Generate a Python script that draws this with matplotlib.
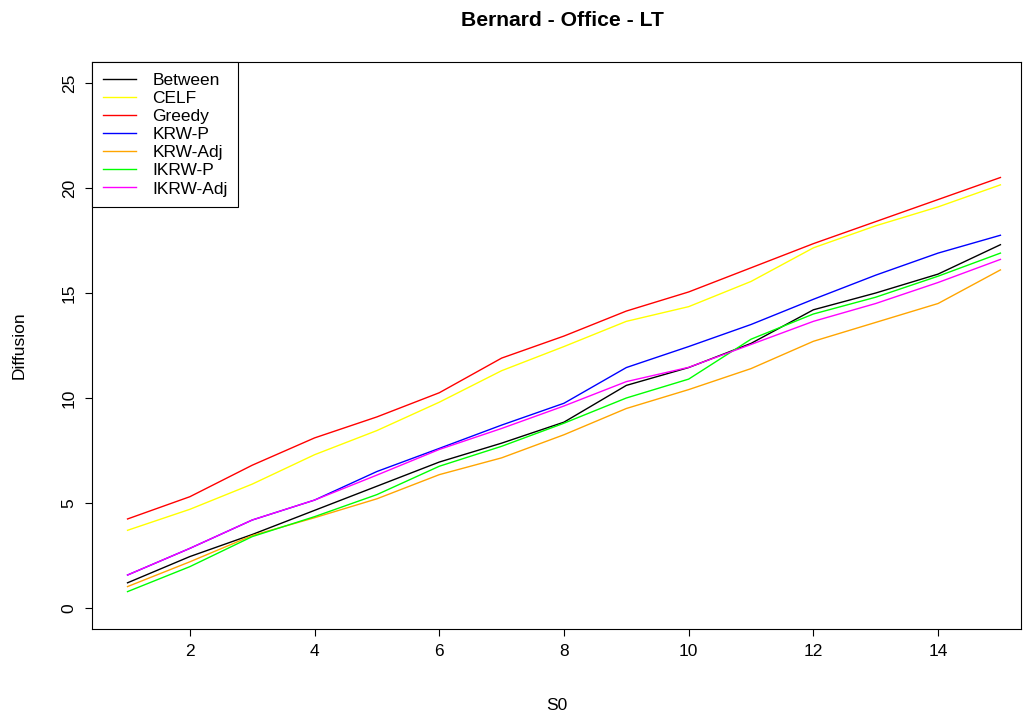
import matplotlib.pyplot as plt
import numpy as np

plt.rcParams['font.family'] = ['Liberation Sans', 'DejaVu Sans']

#### data
s0 = np.arange(1, 16)

between = [1.2, 2.45, 3.5, 4.65, 5.8, 6.95, 7.85, 8.85, 10.6, 11.45, 12.6, 14.2, 15.0, 15.9, 17.3]
celf    = [3.7, 4.7, 5.9, 7.3, 8.45, 9.8, 11.3, 12.45, 13.65, 14.35, 15.55, 17.15, 18.2, 19.1, 20.15]
greedy  = [4.24, 5.3, 6.8, 8.1, 9.1, 10.25, 11.9, 12.95, 14.14, 15.05, 16.2, 17.35, 18.4, 19.45, 20.5]
krw_p   = [1.57, 2.84, 4.19, 5.14, 6.5, 7.6, 8.71, 9.75, 11.45, 12.45, 13.5, 14.7, 15.85, 16.9, 17.75]
krw_adj = [1.02, 2.2, 3.45, 4.3, 5.2, 6.35, 7.15, 8.25, 9.5, 10.4, 11.4, 12.7, 13.6, 14.5, 16.1]
ikrw_p  = [0.78, 1.97, 3.4, 4.35, 5.4, 6.75, 7.7, 8.8, 10.0, 10.9, 12.8, 14.0, 14.8, 15.8, 16.9]
ikrw_adj = [1.57, 2.84, 4.19, 5.14, 6.33, 7.55, 8.55, 9.62, 10.78, 11.46, 12.55, 13.65, 14.5, 15.5, 16.6]

series = [('Between', between, 'black'),
          ('CELF', celf, 'yellow'),
          ('Greedy', greedy, 'red'),
          ('KRW-P', krw_p, 'blue'),
          ('KRW-Adj', krw_adj, 'orange'),
          ('IKRW-P', ikrw_p, '#00FF00'),
          ('IKRW-Adj', ikrw_adj, 'magenta')]

#### plot
fig = plt.figure(figsize=(10.24, 7.17), dpi=100)
ax = fig.add_axes([92/1024, 1 - 629/717, (1021 - 92)/1024, (629 - 62)/717])

for name, vals, col in series:
    ax.plot(s0, vals, color=col, linewidth=1.0, label=name)

ax.set_xlim(0.43, 15.33)
ax.set_ylim(-1.0, 26.0)
ax.set_xticks(range(2, 15, 2))
ax.set_yticks(range(0, 26, 5))

ax.tick_params(direction='out', length=5, width=0.8, labelsize=12.5, colors='black')
ax.tick_params(axis='x', pad=6)
ax.tick_params(axis='y', pad=6)
for lab in ax.get_yticklabels():
    lab.set_rotation(90)
    lab.set_va('center')

for spine in ax.spines.values():
    spine.set_color('black')
    spine.set_linewidth(0.8)

ax.set_xlabel('S0', fontsize=12.5, labelpad=28)
ax.set_ylabel('Diffusion', fontsize=12.5, labelpad=25)
fig.text(0.549, 1 - 20/717, 'Bernard - Office - LT', fontsize=15.2,
         fontweight='bold', ha='center', va='center')

leg = ax.legend(loc='upper left', borderaxespad=0, fancybox=False,
                edgecolor='black', fontsize=12.5, labelspacing=0.17,
                handlelength=1.9, handletextpad=0.95, borderpad=0.62,
                framealpha=1)
leg.get_frame().set_linewidth(0.8)

fig.savefig('out.png', dpi=100)
